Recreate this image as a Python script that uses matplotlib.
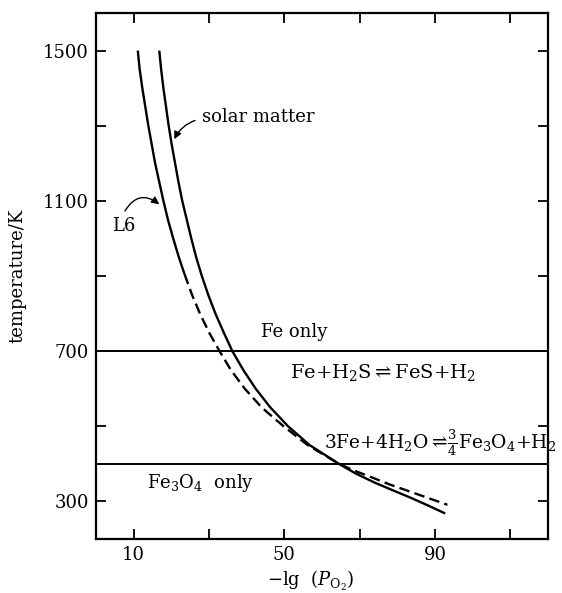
import numpy as np
import matplotlib
matplotlib.use("Agg")
import matplotlib.pyplot as plt

plt.rcParams["font.family"] = "DejaVu Serif"
plt.rcParams["mathtext.fontset"] = "dejavuserif"

# ================================
# Data
# ================================
# solar matter (solid all the way)
solar_x = [16.8, 17.3, 17.9, 18.6, 19.3, 20.1, 21.0, 21.9, 22.9, 24.1,
           25.3, 26.6, 28.1, 29.8, 31.7, 33.9, 36.2, 39.1, 42.4, 46.3,
           51.0, 56.7, 64.5, 69.0, 74.0, 78.7, 83.5, 88.2, 92.7]
solar_T = [1500, 1450, 1400, 1350, 1300, 1250, 1200, 1150, 1100, 1050,
           1000, 950, 900, 850, 800, 750, 700, 650, 600, 550,
           500, 450, 400, 374, 350, 330, 310, 289, 268]

# L6 chondrite: solid at high T, dashed below ~905 K
l6_solid_x = [11.1, 11.6, 12.3, 13.1, 13.9, 14.8, 15.7, 16.8, 17.9, 19.1,
              20.5, 22.0, 23.5]
l6_solid_T = [1500, 1450, 1400, 1350, 1300, 1250, 1200, 1150, 1100, 1050,
              1000, 950, 905]
l6_dash_x  = [23.5, 25.5, 27.6, 30.0, 32.8, 35.8, 39.5, 44.0, 49.8, 56.2,
              64.5, 68.3, 72.7, 78.0, 83.4, 88.5, 93.3]
l6_dash_T  = [905, 850, 800, 750, 700, 650, 600, 550, 500, 450,
              400, 383, 366, 345, 326, 308, 291]

boundary_T = [700, 400]

x_ticks  = [10, 30, 50, 70, 90, 110]
x_labels = ["10", "", "50", "", "90", ""]
y_ticks  = [300, 500, 700, 900, 1100, 1300, 1500]
y_labels = ["300", "", "700", "", "1100", "", "1500"]

FS = 13

fig = plt.figure(figsize=(5.62, 5.93), dpi=100)
ax = fig.add_axes([0.1708, 0.0911, 0.8042, 0.887])

ax.plot(solar_x, solar_T, color="black", lw=1.7, solid_capstyle="butt")
ax.plot(l6_solid_x, l6_solid_T, color="black", lw=1.7, solid_capstyle="butt")
ax.plot(l6_dash_x, l6_dash_T, color="black", lw=1.7, ls=(0, (4.5, 2.2)))
for t in boundary_T:
    ax.axhline(t, color="black", lw=1.4)

ax.set_xlim(0, 120)
ax.set_ylim(200, 1600)
ax.set_xticks(x_ticks)
ax.set_xticklabels(x_labels)
ax.set_yticks(y_ticks)
ax.set_yticklabels(y_labels)
ax.tick_params(direction="in", length=7, width=1.3, top=True, right=True,
               labelsize=FS, pad=5)
for sp in ax.spines.values():
    sp.set_linewidth(1.6)

ax.set_ylabel("temperature/K", fontsize=FS)
ax.yaxis.set_label_coords(-0.155, 0.5)
ax.set_xlabel(r"$-\mathrm{lg}\ \ (P_{\mathrm{O}_2})$", fontsize=FS, va="top")
ax.xaxis.set_label_coords(0.475, -0.057)

# region labels and reactions
ax.text(52.7, 751, "Fe only", fontsize=FS, ha="center", va="center")
ax.text(51.5, 642, r"$\mathrm{Fe{+}H_2S}\rightleftharpoons\mathrm{FeS{+}H_2}$",
        fontsize=14, ha="left", va="center")
ax.text(60.5, 454,
        r"$\mathrm{3Fe{+}4H_2O}\rightleftharpoons\!\frac{3}{4}\mathrm{Fe_3O_4{+}H_2}$",
        fontsize=13.4, ha="left", va="center", clip_on=False)
ax.text(13.5, 350, r"$\mathrm{Fe_3O_4}$  only", fontsize=FS, ha="left", va="center")

# curve labels with arrows
ax.text(28.1, 1323, "solar matter", fontsize=FS, ha="left", va="center")
ax.annotate("", xy=(20.8, 1264), xytext=(26.3, 1314),
            arrowprops=dict(arrowstyle="-|>", color="black", lw=1.0,
                            shrinkA=0, shrinkB=0, mutation_scale=11,
                            connectionstyle="arc3,rad=0.2"))
ax.text(7.3, 1033, "L6", fontsize=FS, ha="center", va="center")
ax.annotate("", xy=(16.8, 1091), xytext=(7.7, 1073),
            arrowprops=dict(arrowstyle="-|>", color="black", lw=1.0,
                            shrinkA=0, shrinkB=0, mutation_scale=11,
                            connectionstyle="arc3,rad=-0.55"))

fig.savefig("out.png", dpi=100)
